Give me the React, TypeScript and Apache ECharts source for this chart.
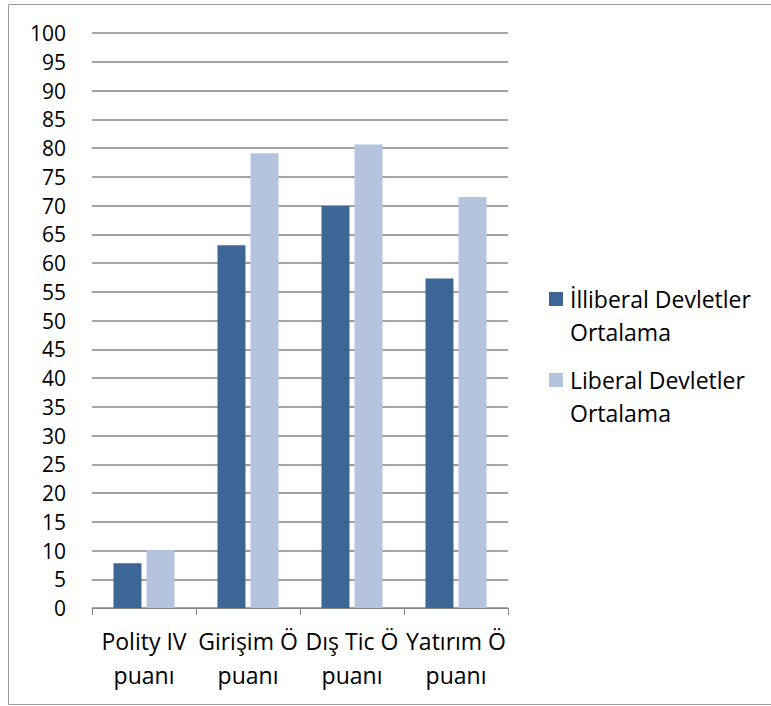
import React, { useEffect, useRef } from "react";
import * as echarts from "echarts";

const categories = ["Polity IV\npuanı", "Girişim Ö\npuanı", "Dış Tic Ö\npuanı", "Yatırım Ö\npuanı"];
const seriesNames = ["İlliberal Devletler Ortalama", "Liberal Devletler Ortalama"];
const illiberal = [7.8, 63.1, 69.9, 57.3];
const liberal = [10.1, 79.1, 80.6, 71.5];

const FONT = "'Open Sans', 'Noto Sans', sans-serif";

export default function App() {
  const ref = useRef<HTMLDivElement>(null);
  useEffect(() => {
    if (!ref.current) return;
    const chart = echarts.init(ref.current, null, { renderer: "svg" });
    chart.setOption({
      animation: false,
      backgroundColor: "#ffffff",
      textStyle: { fontFamily: FONT },
      graphic: [
        {
          type: "rect",
          shape: { x: 8.5, y: 4.5, width: 800, height: 700 },
          style: { fill: "none", stroke: "#9a9a9a", lineWidth: 1 },
          silent: true,
        },
      ],
      grid: { left: 92, right: 263, top: 33, bottom: 98, containLabel: false },
      legend: {
        orient: "vertical",
        left: 549,
        top: 249.5,
        padding: 0,
        itemWidth: 14,
        itemHeight: 14,
        itemGap: -18,
        icon: "rect",
        formatter: (name: string) => "\n" + name.replace(" Ortalama", "\nOrtalama"),
        textStyle: { fontSize: 23, lineHeight: 33, color: "#000", fontFamily: FONT, padding: [0, 0, 0, 2] },
        data: seriesNames,
      },
      xAxis: {
        type: "category",
        data: categories,
        axisLine: { show: true, lineStyle: { color: "#868686", width: 1 } },
        axisTick: { show: true, length: 7, lineStyle: { color: "#868686" } },
        axisLabel: { interval: 0, fontSize: 23, lineHeight: 34, color: "#000", margin: 16, fontFamily: FONT },
      },
      yAxis: {
        type: "value",
        min: 0,
        max: 100,
        interval: 5,
        axisLine: { show: false },
        axisTick: { show: false },
        axisLabel: { fontSize: 21, lineHeight: 22, color: "#000", margin: 26, fontFamily: FONT },
        splitLine: { show: true, lineStyle: { color: "#868686", width: 1.5 } },
      },
      series: [
        {
          name: seriesNames[0],
          type: "bar",
          data: illiberal,
          barWidth: 28,
          barGap: "18%",
          itemStyle: { color: "#3D6596" },
        },
        {
          name: seriesNames[1],
          type: "bar",
          data: liberal,
          barWidth: 28,
          itemStyle: { color: "#B5C4DE" },
        },
      ],
    });
    return () => chart.dispose();
  }, []);
  return (
    <div
      ref={ref}
      style={{ position: "absolute", left: 0, top: 0, width: 771, height: 706, background: "#fff" }}
    />
  );
}
